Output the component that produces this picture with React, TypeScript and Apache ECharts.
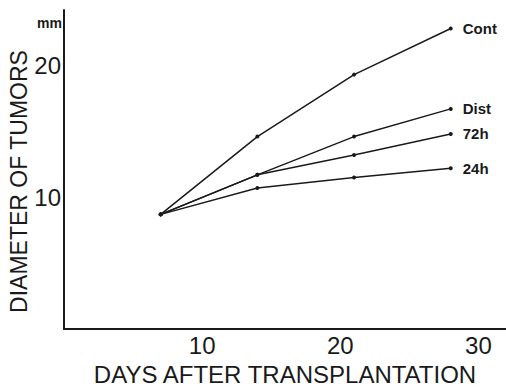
import React, { useEffect, useRef } from "react";
import * as echarts from "echarts";

const days = [7, 14, 21, 28];
const cont = [8.7, 14.6, 19.3, 22.8];
const dist = [8.7, 11.7, 14.6, 16.7];
const h72 = [8.7, 11.7, 13.2, 14.8];
const h24 = [8.7, 10.7, 11.5, 12.2];
const seriesNames = ["Cont", "Dist", "72h", "24h"];
const xTickInterval = 10;
const yTickInterval = 10;

const FONT = "'Liberation Sans', Arial, sans-serif";
const INK = "#1a1a1a";

export default function App() {
  const ref = useRef<HTMLDivElement>(null);
  useEffect(() => {
    if (!ref.current) return;
    const chart = echarts.init(ref.current, undefined, { renderer: "svg" });
    const all = [cont, dist, h72, h24];
    const series = all.map((vals, i) => ({
      name: seriesNames[i],
      type: "line",
      data: days.map((d, j) => [d, vals[j]]),
      symbol: "circle",
      symbolSize: 4,
      itemStyle: { color: INK },
      lineStyle: { color: INK, width: 1.5 },
      endLabel: {
        show: true,
        formatter: "{a}",
        distance: 12,
        color: INK,
        fontFamily: FONT,
        fontWeight: "bold",
        fontSize: 15,
      },
    }));
    chart.setOption({
      animation: false,
      backgroundColor: "#ffffff",
      grid: { left: 64, right: 0, top: 10, bottom: 54 },
      xAxis: {
        type: "value",
        min: 0,
        max: 32,
        interval: xTickInterval,
        name: "DAYS AFTER TRANSPLANTATION",
        nameLocation: "middle",
        nameGap: 31,
        nameTextStyle: { color: INK, fontFamily: FONT, fontSize: 24 },
        axisLine: { show: true, lineStyle: { color: INK, width: 2 } },
        axisTick: { show: false },
        splitLine: { show: false },
        axisLabel: {
          color: INK,
          fontFamily: FONT,
          fontSize: 24,
          margin: 4,
          showMinLabel: false,
          showMaxLabel: false,
        },
      },
      yAxis: {
        type: "value",
        min: 0,
        max: 24.2,
        interval: yTickInterval,
        axisLine: { show: true, lineStyle: { color: INK, width: 2 } },
        axisTick: { show: false },
        splitLine: { show: false },
        axisLabel: {
          color: INK,
          fontFamily: FONT,
          fontSize: 24,
          margin: 3,
          showMinLabel: false,
          showMaxLabel: false,
        },
      },
      graphic: [
        {
          type: "text",
          x: 18.5,
          y: 181.5,
          rotation: Math.PI / 2,
          style: {
            text: "DIAMETER OF TUMORS",
            fill: INK,
            font: `23px ${FONT}`,
            textAlign: "center",
            textVerticalAlign: "middle",
          },
        },
        {
          type: "text",
          x: 62,
          y: 23,
          style: {
            text: "mm",
            fill: INK,
            font: `bold 14px ${FONT}`,
            textAlign: "right",
            textVerticalAlign: "middle",
          },
        },
      ],
      series,
    });
    return () => chart.dispose();
  }, []);
  return (
    <div
      ref={ref}
      style={{ position: "fixed", left: 0, top: 0, width: 506, height: 391 }}
    />
  );
}
